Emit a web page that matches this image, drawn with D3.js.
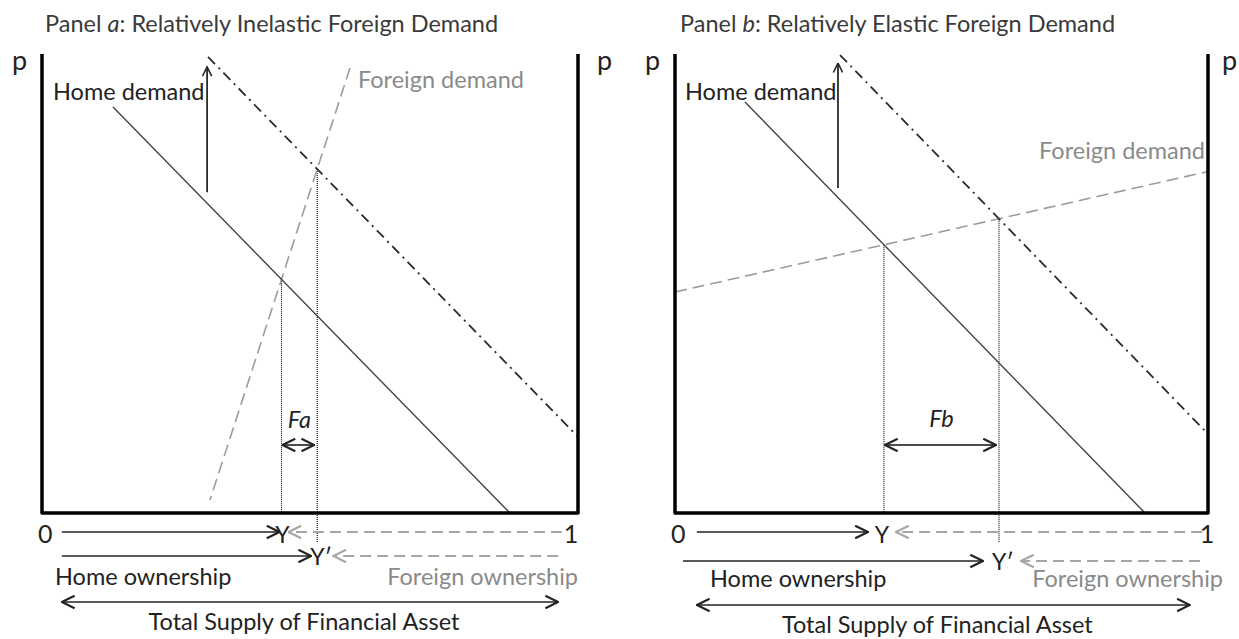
<!DOCTYPE html>
<html>
<head>
<meta charset="utf-8">
<title>Home and Foreign Demand for a Financial Asset</title>
<script src="https://cdnjs.cloudflare.com/ajax/libs/d3/7.8.5/d3.min.js"></script>
<style>
  body { margin: 0; background: #fff; }
  text { font-family: Lato, "Liberation Sans", sans-serif; }
</style>
</head>
<body>
<script>
// ---- data (x = ownership share 0..1, y = price 0..1) ----
var panelTitles = ["Relatively Inelastic Foreign Demand", "Relatively Elastic Foreign Demand"];
var panelLetters = ["a", "b"];
var gapLabels = ["Fa", "Fb"];

var homeDemandA = [[0.1325, 0.8845], [0.873, 0]];
var shiftedDemandA = [[0.3097, 0.9935], [1, 0.166]];
var foreignDemandA = [[0.5746, 0.9695], [0.3134, 0.0283]];
var shiftArrowA = [[0.308, 0.699], [0.308, 0.972]];

var homeDemandB = [[0.1313, 0.8954], [0.8818, 0]];
var shiftedDemandB = [[0.3096, 0.9978], [1, 0.1721]];
var foreignDemandB = [[0, 0.4815], [1, 0.744]];
var shiftArrowB = [[0.3058, 0.708], [0.3058, 0.98]];

// ownership arrows: start of home arrows, start of foreign arrows (shares)
var homeArrowStart = [[0.037, 0.037], [0.041, 0.015]];
var foreignArrowStart = [[0.970, 0.963], [0.989, 0.985]];
var totalSupply = [[0.037, 0.963], [0.041, 0.966]];

// ---- layout ----
var W = 1239, H = 639;
var FS = 23.5;
var layout = [
  { left: 42, right: 578, top: 54, bottom: 513, tipGap: [[-2, 7], [-6, 16]], row: [532, 556], totalY: 602,
    titleX: 45, homeLbl: [53, 100], forLbl: [358, 88], gapY: 445, gapLblY: 428, pRight: 19,
    homeOwnX: 55, ownY: 585, forOwnX: 578, totalLblY: 630, oneX: 571, row2LblY: 565, yPrimeDrop: 543 },
  { left: 675, right: 1208, top: 54, bottom: 513, tipGap: [[-16, 12], [-16, 22]], row: [532, 561], totalY: 605,
    titleX: 680, homeLbl: [685, 100], forLbl: [1205, 159], gapY: 445, gapLblY: 427, pRight: 14,
    homeOwnX: 710, ownY: 587, forOwnX: 1223, totalLblY: 633, oneX: 1207, row2LblY: 570, yPrimeDrop: 543 }
];
var lines = [
  { home: homeDemandA, shifted: shiftedDemandA, foreign: foreignDemandA, arrow: shiftArrowA },
  { home: homeDemandB, shifted: shiftedDemandB, foreign: foreignDemandB, arrow: shiftArrowB }
];

var svg = d3.select("body").append("svg")
  .attr("width", W).attr("height", H);

var defs = svg.append("defs");
function marker(id, color, size) {
  defs.append("marker")
    .attr("id", id)
    .attr("viewBox", "0 0 10 10")
    .attr("refX", 9.5).attr("refY", 5)
    .attr("markerUnits", "userSpaceOnUse")
    .attr("markerWidth", size).attr("markerHeight", size)
    .attr("orient", "auto-start-reverse")
    .append("path")
    .attr("d", "M1,0.8 L9.5,5 L1,9.2")
    .attr("fill", "none")
    .attr("stroke", color)
    .attr("stroke-width", 1.4);
}
marker("arrBlack", "#222", 15);
marker("arrGray", "#a6a6a6", 15);
marker("arrSmall", "#222", 11);

function intersect(l1, l2) {
  var x1 = l1[0][0], y1 = l1[0][1], x2 = l1[1][0], y2 = l1[1][1];
  var x3 = l2[0][0], y3 = l2[0][1], x4 = l2[1][0], y4 = l2[1][1];
  var den = (x1 - x2) * (y3 - y4) - (y1 - y2) * (x3 - x4);
  var a = x1 * y2 - y1 * x2, b = x3 * y4 - y3 * x4;
  return [(a * (x3 - x4) - (x1 - x2) * b) / den, (a * (y3 - y4) - (y1 - y2) * b) / den];
}

layout.forEach(function(L, i) {
  var d = lines[i];
  var x = d3.scaleLinear().domain([0, 1]).range([L.left, L.right]);
  var y = d3.scaleLinear().domain([0, 1]).range([L.bottom, L.top]);
  var line = d3.line().x(function(p) { return x(p[0]); }).y(function(p) { return y(p[1]); });
  var g = svg.append("g");

  // title
  var t = g.append("text").attr("x", L.titleX).attr("y", 32)
    .attr("font-size", FS).attr("fill", "#3a3a3a");
  t.append("tspan").text("Panel ");
  t.append("tspan").attr("font-style", "italic").text(panelLetters[i]);
  t.append("tspan").text(": " + panelTitles[i]);

  // p labels
  g.append("text").attr("x", L.left - 30).attr("y", 70).attr("font-size", 27).attr("fill", "#222").text("p");
  g.append("text").attr("x", L.right + L.pRight).attr("y", 70).attr("font-size", 27).attr("fill", "#222").text("p");

  // intersections
  var pY = intersect(d.home, d.foreign);
  var pY2 = intersect(d.shifted, d.foreign);

  // dotted verticals
  g.append("line").attr("x1", x(pY[0])).attr("x2", x(pY[0]))
    .attr("y1", y(pY[1])).attr("y2", L.bottom)
    .attr("stroke", "#000").attr("stroke-width", 1.1).attr("stroke-dasharray", "1,1");
  g.append("line").attr("x1", x(pY2[0])).attr("x2", x(pY2[0]))
    .attr("y1", y(pY2[1])).attr("y2", L.yPrimeDrop)
    .attr("stroke", "#000").attr("stroke-width", 1.1).attr("stroke-dasharray", "1,1");

  // demand curves
  g.append("path").attr("d", line(d.foreign)).attr("fill", "none")
    .attr("stroke", "#9c9c9c").attr("stroke-width", 1.6).attr("stroke-dasharray", "12,6");
  g.append("path").attr("d", line(d.home)).attr("fill", "none")
    .attr("stroke", "#444").attr("stroke-width", 1.4);
  g.append("path").attr("d", line(d.shifted)).attr("fill", "none")
    .attr("stroke", "#2a2a2a").attr("stroke-width", 1.8).attr("stroke-dasharray", "10,5,2,5");

  // shift arrow
  g.append("path").attr("d", line(d.arrow)).attr("fill", "none")
    .attr("stroke", "#111").attr("stroke-width", 1.6).attr("marker-end", "url(#arrSmall)");

  // axes frame
  g.append("path")
    .attr("d", "M" + L.left + "," + L.top + "V" + L.bottom + "H" + L.right + "V" + L.top)
    .attr("fill", "none").attr("stroke", "#000").attr("stroke-width", 3.5).attr("stroke-linejoin", "round");

  // curve labels
  g.append("text").attr("x", L.homeLbl[0]).attr("y", L.homeLbl[1]).attr("font-size", FS)
    .attr("fill", "#222").text("Home demand");
  g.append("text").attr("x", L.forLbl[0]).attr("y", L.forLbl[1]).attr("font-size", FS)
    .attr("text-anchor", i === 0 ? "start" : "end")
    .attr("fill", "#8a8a8a").text("Foreign demand");

  // gap arrow Fa / Fb
  var xa = x(pY[0]), xb = x(pY2[0]);
  g.append("line").attr("x1", xa + 1).attr("x2", xb - 3).attr("y1", L.gapY).attr("y2", L.gapY)
    .attr("stroke", "#111").attr("stroke-width", 1.6)
    .attr("marker-start", "url(#arrBlack)").attr("marker-end", "url(#arrBlack)");
  g.append("text").attr("x", (xa + xb) / 2).attr("y", L.gapLblY).attr("font-size", FS)
    .attr("font-style", "italic").attr("text-anchor", "middle").attr("fill", "#222").text(gapLabels[i]);

  // ownership rows
  var shares = [pY[0], pY2[0]];
  shares.forEach(function(s, r) {
    var ry = L.row[r];
    var xs = x(s);
    g.append("line").attr("x1", x(homeArrowStart[i][r])).attr("x2", xs + L.tipGap[r][0])
      .attr("y1", ry).attr("y2", ry).attr("stroke", "#222").attr("stroke-width", 1.6)
      .attr("marker-end", "url(#arrBlack)");
    g.append("line").attr("x1", x(foreignArrowStart[i][r])).attr("x2", xs + L.tipGap[r][1])
      .attr("y1", ry).attr("y2", ry).attr("stroke", "#a6a6a6").attr("stroke-width", 2)
      .attr("stroke-dasharray", "11,6").attr("marker-end", "url(#arrGray)");
  });
  g.append("text").attr("x", x(pY[0]) + (i === 0 ? 1 : -2)).attr("y", 543).attr("font-size", 23)
    .attr("text-anchor", "middle").attr("fill", "#222").text("Y");
  g.append("text").attr("x", x(pY2[0]) - 7).attr("y", L.row2LblY).attr("font-size", 23)
    .attr("fill", "#222").text("Y\u2032");
  g.append("text").attr("x", L.left - 4).attr("y", 543).attr("font-size", 25).attr("fill", "#222").text("0");
  g.append("text").attr("x", L.oneX).attr("y", 543).attr("font-size", 25)
    .attr("text-anchor", "middle").attr("fill", "#222").text("1");

  g.append("text").attr("x", L.homeOwnX).attr("y", L.ownY).attr("font-size", FS)
    .attr("fill", "#222").text("Home ownership");
  g.append("text").attr("x", L.forOwnX).attr("y", L.ownY).attr("font-size", FS)
    .attr("text-anchor", "end").attr("fill", "#8a8a8a").text("Foreign ownership");

  // total supply double arrow
  g.append("line").attr("x1", x(totalSupply[i][0])).attr("x2", x(totalSupply[i][1]))
    .attr("y1", L.totalY).attr("y2", L.totalY).attr("stroke", "#222").attr("stroke-width", 1.6)
    .attr("marker-start", "url(#arrBlack)").attr("marker-end", "url(#arrBlack)");
  g.append("text").attr("x", (x(totalSupply[i][0]) + x(totalSupply[i][1])) / 2 - 6).attr("y", L.totalLblY)
    .attr("font-size", FS).attr("text-anchor", "middle").attr("fill", "#222")
    .text("Total Supply of Financial Asset");
});
</script>
</body>
</html>
